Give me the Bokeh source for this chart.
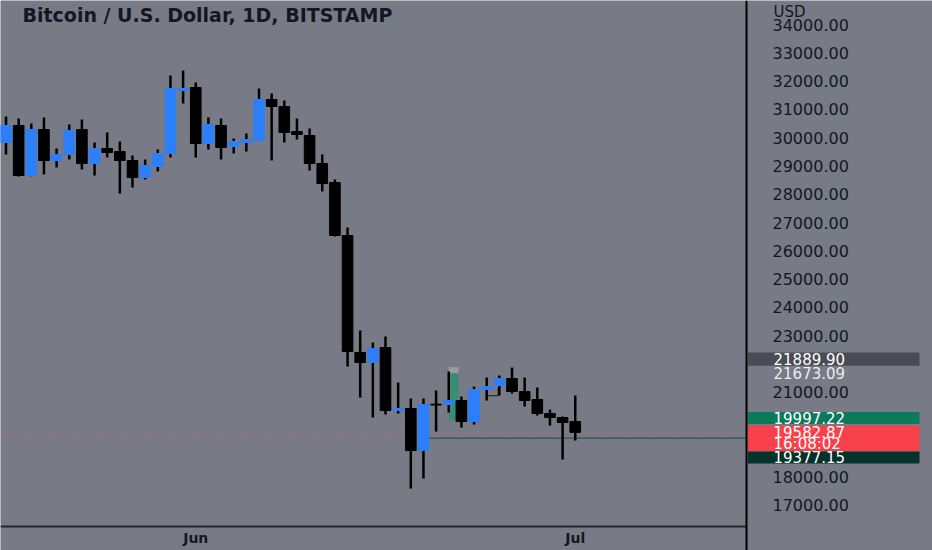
from bokeh.plotting import figure
from bokeh.models import Range1d, FixedTicker, BoxAnnotation, Label, ColumnDataSource, NumeralTickFormatter
from bokeh.embed import file_html
from bokeh.resources import INLINE

# ---------------- data ----------------
days = ["May 17", "May 18", "May 19", "May 20", "May 21", "May 22", "May 23", "May 24",
        "May 25", "May 26", "May 27", "May 28", "May 29", "May 30", "May 31",
        "Jun 1", "Jun 2", "Jun 3", "Jun 4", "Jun 5", "Jun 6", "Jun 7", "Jun 8", "Jun 9",
        "Jun 10", "Jun 11", "Jun 12", "Jun 13", "Jun 14", "Jun 15", "Jun 16", "Jun 17",
        "Jun 18", "Jun 19", "Jun 20", "Jun 21", "Jun 22", "Jun 23", "Jun 24", "Jun 25",
        "Jun 26", "Jun 27", "Jun 28", "Jun 29", "Jun 30", "Jul 1"]
opens = [29829, 30430, 28662, 30288, 29192, 29404, 30288, 29086, 29617, 29511, 29192, 28591,
         28980, 29440, 31667, 31773, 29793, 30430, 29687, 29829, 29899, 31349, 31101, 30218,
         30076, 29086, 28415, 26541, 22405, 22052, 22582, 20355, 20426, 18940, 20580, 20567,
         20708, 19966, 21097, 21238, 21486, 21027, 20744, 20249, 20107, 19966]
highs = [30748, 30677, 30500, 30712, 29617, 30465, 30642, 29829, 30182, 29864, 29369, 29227,
         29581, 32197, 32374, 31950, 30712, 30677, 29970, 30147, 31738, 31561, 31313, 30677,
         30324, 29404, 28521, 26824, 23183, 22759, 22971, 21345, 20779, 20779, 21062, 21734,
         20850, 21203, 21521, 21592, 21875, 21521, 21168, 20390, 20143, 20885]
lows = [29404, 28627, 28640, 28698, 28945, 29227, 28874, 28662, 29298, 28026, 28238, 28521,
        28803, 29298, 31207, 29298, 29581, 29227, 29440, 29511, 29880, 29192, 29829, 29935,
        28839, 28096, 26506, 21910, 20815, 20107, 20213, 20249, 17596, 17951, 19612, 20284,
        19754, 19860, 20708, 20885, 20957, 20496, 20178, 19824, 18623, 19294]
closes = [30430, 28662, 30288, 29192, 29404, 30253, 29086, 29617, 29475, 29192, 28591, 29016,
          29440, 31738, 31738, 29793, 30465, 29652, 29864, 29935, 31349, 31101, 30182, 30112,
          29086, 28379, 26541, 22441, 22052, 22547, 20355, 20426, 18940, 20567, 20550, 20708,
          19966, 21097, 21203, 21486, 21027, 20708, 20249, 20107, 19930, 19582.87]

price_ticks = [17000, 18000, 21000, 23000, 24000, 25000, 26000, 27000, 28000,
               29000, 30000, 31000, 32000, 33000, 34000]
month_tick_days = ["Jun 1", "Jul 1"]
month_tick_labels = ["Jun", "Jul"]

title_text = "Bitcoin / U.S. Dollar, 1D, BITSTAMP"
currency = "USD"

# price-scale markers
level_high = 21889.90
level_mid = 21673.09
level_entry = 19997.22
last_price = 19582.87
countdown = "16:08:02"
level_stop = 19377.15
drawing_day = "Jun 21"
stop_line_start_day = "Jun 19"
hook_days = ["Jun 24", "Jun 25"]
hook_prices = [20880, 21150]

# ---------------- layout helpers ----------------
W, H = 932, 550
AX_X, AX_Y = 746, 526          # pixel of price axis line / time axis line
X0, PX_DAY = 5.5, 12.65        # pixel of first candle, pixels per day
Y34, PX_K = 24.0, 28.29        # pixel of 34000, pixels per 1000 USD
PRICE_PER_PX = 1000.0 / PX_K


def xi(px):
    return (px - X0) / PX_DAY


def yp(py):
    return 34000 - (py - Y34) * PRICE_PER_PX


idx = list(range(len(days)))
up = [c >= o for o, c in zip(opens, closes)]
BLUE = "#2d7ff9"
BLACK = "#000000"
src = ColumnDataSource(dict(
    x=idx, o=opens, h=highs, l=lows, c=closes,
    top=[max(o, c) for o, c in zip(opens, closes)],
    bot=[min(o, c) for o, c in zip(opens, closes)],
    color=[BLUE if u else BLACK for u in up],
))

p = figure(width=W, height=H,
           x_range=Range1d(xi(0), xi(W)), y_range=Range1d(yp(H), yp(0)),
           y_axis_location="right", output_backend="svg", toolbar_location=None,
           min_border_left=0, min_border_top=0, min_border_right=0, min_border_bottom=0)
BG = "#787b86"
p.background_fill_color = BG
p.border_fill_color = BG
p.outline_line_color = None
p.grid.visible = False

# position drawing (behind candles)
d0 = days.index(drawing_day)
p.quad(left=[d0], right=[d0 + 0.78], bottom=[level_entry], top=[level_mid],
       fill_color="#3a8c74", line_color=None)
p.quad(left=[d0], right=[d0 + 0.78], bottom=[level_mid], top=[level_high],
       fill_color="#9a9ba1", line_color=None)

# small hook drawing
h0, h1 = days.index(hook_days[0]), days.index(hook_days[1])
p.line(x=[h0, h1 - 0.1, h1 - 0.1], y=[hook_prices[0], hook_prices[0], hook_prices[1]],
       line_color="#2b2f38", line_width=1.2)

# last price dotted line and stop line
p.segment(x0=[xi(0)], y0=[last_price], x1=[xi(AX_X)], y1=[last_price],
          line_color="#f0505a", line_alpha=0.7, line_width=1, line_dash="2 4")
s0 = days.index(stop_line_start_day) + 0.45
p.segment(x0=[s0], y0=[level_stop], x1=[xi(AX_X)], y1=[level_stop],
          line_color="#2c5350", line_width=1.2)

# candles
p.segment(x0="x", y0="h", x1="x", y1="l", source=src, line_color=BLACK, line_width=2.5)
p.vbar(x="x", width=0.84, top="top", bottom="bot", source=src,
       fill_color="color", line_color="color", line_width=1)

# axes
ya = p.yaxis[0]
ya.fixed_location = xi(AX_X)
ya.ticker = FixedTicker(ticks=price_ticks)
ya.formatter = NumeralTickFormatter(format="0.00")
ya.major_label_text_font = "DejaVu Sans"
ya.major_label_text_font_size = "16px"
ya.major_label_text_color = "#131722"
ya.major_tick_line_color = None
ya.minor_tick_line_color = None
ya.major_tick_out = 0
ya.major_tick_in = 0
ya.minor_tick_out = 0
ya.axis_line_color = "#000000"
ya.axis_line_width = 2
ya.major_label_standoff = 26

xa = p.xaxis[0]
xa.fixed_location = yp(AX_Y)
xa.bounds = (xi(0), xi(AX_X))
tick_idx = [days.index(d) for d in month_tick_days]
xa.ticker = FixedTicker(ticks=tick_idx)
xa.major_label_overrides = {i: t for i, t in zip(tick_idx, month_tick_labels)}
xa.major_label_text_font = "DejaVu Sans"
xa.major_label_text_font_style = "bold"
xa.major_label_text_font_size = "14px"
xa.major_label_text_color = "#131722"
xa.major_tick_line_color = None
xa.minor_tick_line_color = None
xa.major_tick_out = 0
xa.major_tick_in = 0
xa.minor_tick_out = 0
xa.axis_line_color = "#23262e"
xa.axis_line_width = 2
xa.major_label_standoff = 3

# title
p.add_layout(Label(x=xi(22), y=yp(14), text=title_text, text_font="DejaVu Sans",
                   text_font_style="bold", text_font_size="19px", text_color="#131722",
                   text_baseline="middle", text_align="left"))
# currency
p.add_layout(Label(x=xi(773), y=yp(11), text=currency, text_font="DejaVu Sans",
                   text_font_size="15px", text_color="#131722",
                   text_baseline="middle", text_align="left"))

# price-scale labels
BOX_L, BOX_R, TXT_X = xi(AX_X + 1.5), xi(919), xi(773)


def price_box(center, half_px, color):
    p.add_layout(BoxAnnotation(left=BOX_L, right=BOX_R,
                               bottom=center - half_px * PRICE_PER_PX,
                               top=center + half_px * PRICE_PER_PX,
                               fill_color=color, fill_alpha=1.0, line_color=None,
                               level="overlay"))


def price_text(center, text, color="#ffffff"):
    p.add_layout(Label(x=TXT_X, y=center, text=text, text_font="DejaVu Sans",
                       text_font_size="15px", text_color=color, text_baseline="middle",
                       text_align="left", level="overlay"))


c_high = level_high + 8 * PRICE_PER_PX
price_box(c_high, 6.7, "#4a4c55")
price_text(c_high, f"{level_high:.2f}")
price_text(level_mid, f"{level_mid:.2f}", "#eceded")
c_entry = level_entry + 2.6 * PRICE_PER_PX
price_box(c_entry, 6.0, "#0a7a5a")
price_text(c_entry, f"{level_entry:.2f}")
c_last = last_price - 6 * PRICE_PER_PX
price_box(c_last, 12.8, "#f7404a")
price_text(last_price, f"{last_price:.2f}")
price_text(last_price - 11.8 * PRICE_PER_PX, countdown)
c_stop = level_stop - 19.2 * PRICE_PER_PX
price_box(c_stop, 6.0, "#05322a")
price_text(c_stop, f"{level_stop:.2f}")

open("out.html", "w").write(file_html(p, INLINE))
